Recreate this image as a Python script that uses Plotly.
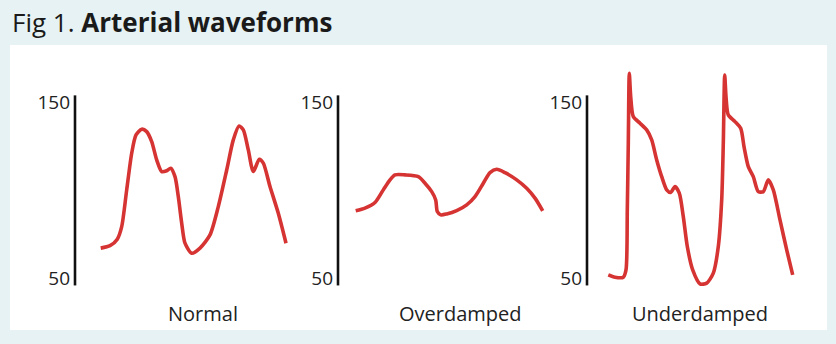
import plotly.graph_objects as go

W, H = 836, 344

# ---- data (time offset, pressure in mmHg) ----
normal_t = [25.7, 35, 42.3, 46.7, 51.7, 56.7, 61, 66.7, 71.7, 76.7, 81.7, 86.7, 91.7, 95.7, 100,
            103.3, 106.7, 110, 116.7, 125, 135, 143.3, 151.7, 158.3, 164, 168.3, 173.3, 178.3,
            184.3, 188.3, 195, 203.3, 211]
normal_p = [67.2, 68.6, 72.3, 79.4, 100.3, 121.1, 131.5, 134.8, 133.4, 127.7, 117.3, 110.7, 111.2,
            112.6, 107.8, 96.5, 81.4, 70, 64.3, 67.2, 74.7, 90.8, 111.6, 128.7, 136.6, 134.4, 123,
            110.7, 117.7, 115.5, 102.2, 87, 70]

over_t = [17.7, 27, 37, 45.3, 52, 57, 67, 80.3, 87, 93.7, 97.7, 99.3, 102.7, 108.7, 118.7, 128.7,
          137, 145.3, 152, 158.7, 167, 178.7, 188.7, 197, 204.7]
over_p = [88.4, 89.9, 93.1, 100.3, 106, 108.8, 108.8, 107.8, 104.1, 99.3, 94.6, 88, 86.1, 86.6,
          88.5, 91.8, 96.5, 104.1, 110.1, 112, 110.1, 106, 101.2, 95.6, 88.4]

under_t = [21.3, 28, 36.3, 39, 40.3, 41.3, 42.3, 43.7, 46.3, 53, 59.7, 64.7, 69.7, 74.7, 79.7, 83.7,
           88, 92.3, 96.3, 100.3, 105.7, 113, 119.7, 126.3, 131.3, 134.7, 136.3, 137.7, 139, 141.3,
           148, 153.7, 157, 161.3, 166.3, 171.3, 176.3, 181.3, 186.3, 193, 199.7, 205.7]
under_p = [52, 50.7, 50.7, 54.8, 88.9, 126.8, 166.6, 153.3, 141.9, 138.2, 134.4, 128.7, 117.3, 107.8,
           100.3, 98.8, 102.2, 98.4, 85.1, 68.1, 54.8, 46.9, 47.3, 53, 68.1, 94.6, 126.8, 165.6,
           153.3, 142.9, 139.1, 135.3, 124.9, 113.5, 107.8, 99.3, 99.3, 106, 100.3, 83.2, 66.2, 52]

labels = ["Normal", "Overdamped", "Underdamped"]
tick_vals = [50, 150]
tick_text = ["50", "150"]

RED = "#d63333"
BG = "#e6f2f3"
FONT = "Open Sans"

def px(x):
    return x / W

def py(y):
    return 1 - y / H

axis_px = [75, 338, 587]
label_px = [203, 460, 700]
series = [(normal_t, normal_p), (over_t, over_p), (under_t, under_p)]

fig = go.Figure()
ydom = [py(296), py(60)]
for i, ((t, p), a) in enumerate(zip(series, axis_px)):
    n = "" if i == 0 else str(i + 1)
    fig.add_trace(go.Scatter(x=t, y=p, mode="lines", xaxis="x" + n, yaxis="y" + n,
                             line=dict(color=RED, width=3.6, shape="spline", smoothing=0.7),
                             showlegend=False, hoverinfo="skip"))
    fig.layout["xaxis" + n] = dict(domain=[px(a), px(a + 225)], range=[0, 225], visible=False,
                                  anchor="y" + n)
    fig.layout["yaxis" + n] = dict(domain=ydom, range=[40, 174.1], anchor="x" + n,
                                  tickvals=tick_vals, ticktext=tick_text, ticks="",
                                  showgrid=False, zeroline=False, showline=False,
                                  ticklabelstandoff=4,
                                  tickfont=dict(family=FONT, size=19, color="#222"))
    fig.add_shape(type="line", xref="x" + n + " domain", yref="y" + n, x0=0, x1=0, y0=46, y1=154,
                  line=dict(color="#111", width=2.6))
    fig.add_annotation(text=labels[i], xref="paper", yref="paper", x=px(label_px[i]), y=py(313),
                       xanchor="center", yanchor="middle", showarrow=False,
                       font=dict(family=FONT, size=20, color="#222"))

# white panel
fig.add_shape(type="rect", xref="paper", yref="paper", x0=px(10), x1=px(827), y0=py(330), y1=py(45),
              fillcolor="white", line=dict(width=0), layer="below")

fig.add_annotation(text="Fig 1. <b>Arterial waveforms</b>", xref="paper", yref="paper",
                   x=px(10), y=py(22), xanchor="left", yanchor="middle", showarrow=False,
                   font=dict(family=FONT, size=26, color="#1a1a1a"))

fig.update_layout(width=W, height=H, margin=dict(l=0, r=0, t=0, b=0),
                  paper_bgcolor=BG, plot_bgcolor="rgba(0,0,0,0)")

fig.write_html("out.html")
